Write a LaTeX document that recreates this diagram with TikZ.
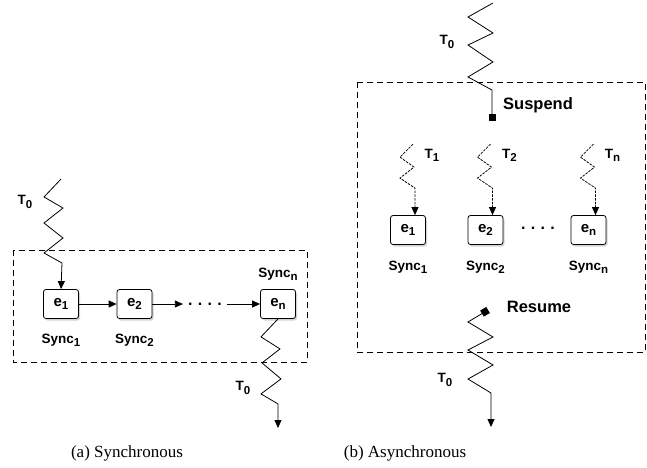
\documentclass[tikz,border=0pt]{standalone}
\usepackage{fontspec}
\setmainfont{Liberation Serif}
\setsansfont{Liberation Sans}
\usetikzlibrary{arrows.meta,calc,positioning,shadows}
\newcommand\low[1]{\raisebox{-0.45ex}{\fontsize{11.5}{12}\selectfont #1}}

\tikzset{
	evbox/.style={draw, line width=0.8pt, rounded corners=2.5pt, fill=white, minimum width=35, minimum height=29, inner sep=0pt,
		drop shadow={opacity=0.35, shadow xshift=1.5pt, shadow yshift=-2pt}, font=\sffamily\bfseries\fontsize{15}{16}\selectfont},
	lbl/.style={font=\sffamily\bfseries\fontsize{13.5}{15}\selectfont, inner sep=1pt},
	biglbl/.style={font=\sffamily\bfseries\fontsize{16.5}{18}\selectfont, inner sep=1pt},
	dotrow/.style={font=\sffamily\bfseries\fontsize{16}{17}\selectfont, inner sep=1pt},
	thread/.style={line width=0.8pt, -{Triangle[length=8pt,width=7pt]}},
	tick/.style={line width=0.8pt, dash pattern=on 2.5pt off 1.2pt, -{Triangle[length=8pt,width=7pt]}},
	flow/.style={line width=0.8pt, -{Triangle[length=8pt,width=7pt]}},
	frame/.style={line width=0.8pt, dash pattern=on 6pt off 4pt},
	subcap/.style={font=\fontsize{17}{19}\selectfont}
}

\begin{document}
\begin{tikzpicture}[x=1pt, y=-1pt]
	\useasboundingbox (0,0) rectangle (647,467);

	%%%%% (a) synchronous %%%%%

	\draw[frame] (13,250) rectangle (307,362);

	\node[evbox] (e1l) at (61,304) {e\low{1}};
	\node[evbox] (e2l) at (134.5,304) {e\low{2}};
	\node[evbox] (enl) at (278,304) {e\low{n}};
	\node[dotrow, inner xsep=5pt] (ldots) at (205,304) {.\,\,.\,\,.\,\,.};

	\draw[flow] (e1l) -- (e2l);
	\draw[flow] (e2l) -- (ldots);
	\draw[flow] (ldots) -- (enl);

	\node[lbl, below=14pt of e1l] {Sync\low{1}};
	\node[lbl, below=14pt of e2l] {Sync\low{2}};
	\node[lbl, above=7pt of enl] {Sync\low{n}};

	\coordinate (ltop) at (61,179);
	\draw[thread] (ltop) -- ++(-17,18) -- ++(19,11) -- ++(-19,15) -- ++(19,15) -- ++(-19,15) -- ++(18,10) -- (e1l.north);
	\node[lbl] at (25,202) {T\low{0}};

	\coordinate (lend) at (278,428);
	\draw[thread] (enl.south) -- ++(-17,18) -- ++(19,12) -- ++(-18,14) -- ++(19,16) -- ++(-20,15) -- ++(17,10) -- (lend);
	\node[lbl] at (243,388) {T\low{0}};

	\node[subcap] at (127,453) {(a) Synchronous};

	%%%%% (b) asynchronous %%%%%

	\draw[frame] (357,82) rectangle (645,352);

	\node[evbox] (e1r) at (408,230) {e\low{1}};
	\node[evbox] (e2r) at (485.5,230) {e\low{2}};
	\node[evbox] (enr) at (588.5,230) {e\low{n}};
	\node[dotrow] at (538,228) {.\,\,.\,\,.\,\,.};

	\foreach \b/\t in {e1r/1, e2r/2, enr/n}{
		\draw[tick] ($(\b.north)+(5,-71)$) -- ++(-13,13) -- ++(14,10) -- ++(-14,11) -- ++(15,10) -- ($(\b.north)+(7,0)$);
		\node[lbl] at ($(\b.north)+(24,-60)$) {T\low{\t}};
		\node[lbl, below=15pt of \b] {Sync\low{\t}};
	}

	\coordinate (rtop) at (493,3);
	\coordinate (susp) at (492,121);
	\draw[line width=0.8pt, -{Square[length=7pt,width=7pt]}] (rtop) -- ++(-25,14) -- ++(25,16) -- ++(-25,12) -- ++(25,17) -- ++(-25,15) -- ++(24,13) -- (susp);
	\node[lbl] at (447,42) {T\low{0}};
	\node[biglbl] at (538,105) {Suspend};

	\coordinate (resm) at (488,310);
	\coordinate (rend) at (491,427);
	\draw[line width=0.8pt, {Square[length=7pt,width=7pt]}-{Triangle[length=8pt,width=7pt]}] (resm) -- ++(-20,12) -- ++(25,15) -- ++(-25,13) -- ++(25,15) -- ++(-25,14) -- ++(23,14) -- (rend);
	\node[biglbl] at (539,307) {Resume};
	\node[lbl] at (445,380) {T\low{0}};

	\node[subcap] at (405,453) {(b) Asynchronous};
\end{tikzpicture}
\end{document}
